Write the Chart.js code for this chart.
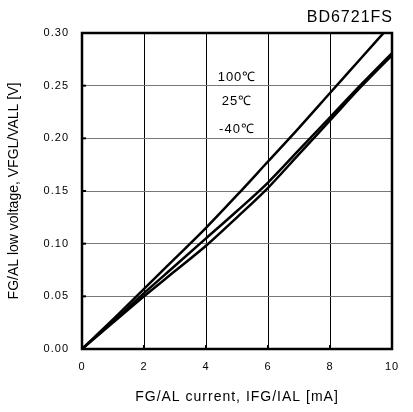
<!DOCTYPE html>
<html>
<head>
<meta charset="utf-8">
<script src="https://cdn.jsdelivr.net/npm/chart.js@4"></script>
<style>
  html, body { margin: 0; padding: 0; background: #fff; }
  #wrap { width: 413px; height: 412px; }
</style>
</head>
<body>
<div id="wrap"><canvas id="grafico" width="413" height="412"></canvas></div>
<script>
// dados
const corrente = [0, 1, 2, 3, 4, 5, 6, 7, 8, 9, 10];
const v100 = [0, 0.028, 0.057, 0.086, 0.115, 0.146, 0.178, 0.210, 0.243, 0.276, 0.309];
const v25 = [0, 0.026, 0.053, 0.079, 0.105, 0.131, 0.158, 0.189, 0.220, 0.251, 0.281];
const vm40 = [0, 0.025, 0.050, 0.074, 0.098, 0.125, 0.153, 0.185, 0.217, 0.249, 0.279];
const xTicks = [0, 2, 4, 6, 8, 10];
const yTicks = [0, 0.05, 0.10, 0.15, 0.20, 0.25, 0.30];
const rotulos = [
    { texto: '100\u2103', x: 5.0, y: 0.258 },
    { texto: '25\u2103', x: 5.0, y: 0.235 },
    { texto: '-40\u2103', x: 5.0, y: 0.208 }
];
const titulo = 'BD6721FS';
const tituloY = 'FG/AL low voltage, VFGL/VALL [V]';

const fonte = 'Liberation Sans, Arial, sans-serif';

function serie(ys) {
    return corrente.map((x, i) => ({ x: x, y: ys[i] }));
}

function dataset(ys) {
    return {
        data: serie(ys),
        borderColor: '#000',
        borderWidth: 2.5,
        pointRadius: 0,
        fill: false,
        cubicInterpolationMode: 'monotone'
    };
}

// texto do original e um pouco mais espacado
function espacar(chart) {
    if ('letterSpacing' in chart.ctx) chart.ctx.letterSpacing = '1px';
}

// moldura, marcas internas e textos
const extras = {
    id: 'extras',
    beforeUpdate: espacar,
    beforeDraw: espacar,
    afterDatasetsDraw(chart) {
        const ctx = chart.ctx;
        const a = chart.chartArea;
        const sx = chart.scales.x;
        const sy = chart.scales.y;
        ctx.save();
        ctx.strokeStyle = '#000';
        ctx.lineWidth = 2.5;
        ctx.strokeRect(a.left, a.top, a.right - a.left, a.bottom - a.top);
        ctx.lineWidth = 2;
        yTicks.forEach(v => {
            const py = sy.getPixelForValue(v);
            ctx.beginPath();
            ctx.moveTo(a.left, py);
            ctx.lineTo(a.left + 4, py);
            ctx.stroke();
        });
        xTicks.forEach(v => {
            const px = sx.getPixelForValue(v);
            ctx.beginPath();
            ctx.moveTo(px, a.bottom);
            ctx.lineTo(px, a.bottom - 4);
            ctx.stroke();
        });
        ctx.fillStyle = '#000';
        ctx.font = '13px ' + fonte;
        ctx.textAlign = 'center';
        ctx.textBaseline = 'middle';
        rotulos.forEach(r => {
            ctx.fillText(r.texto, sx.getPixelForValue(r.x), sy.getPixelForValue(r.y));
        });
        ctx.font = '16px ' + fonte;
        ctx.textAlign = 'right';
        ctx.fillText(titulo, a.right + 1, 18);

        // titulo do eixo y sem espacamento extra
        if ('letterSpacing' in ctx) ctx.letterSpacing = '0px';
        ctx.font = '14px ' + fonte;
        ctx.textAlign = 'center';
        ctx.translate(14, (a.top + a.bottom) / 2);
        ctx.rotate(-Math.PI / 2);
        ctx.fillText(tituloY, 0, 0);
        ctx.restore();
    }
};

const ctx = document.getElementById('grafico').getContext('2d');
const chart = new Chart(ctx, {
    type: 'line',
    data: {
        datasets: [dataset(v100), dataset(v25), dataset(vm40)]
    },
    options: {
        responsive: false,
        animation: false,
        layout: { padding: { top: 33, right: 21, left: 0, bottom: 0 } },
        plugins: {
            legend: { display: false },
            tooltip: { enabled: false }
        },
        scales: {
            x: {
                type: 'linear',
                min: 0,
                max: 10,
                afterFit: s => { s.height = 63; },
                afterBuildTicks: s => { s.ticks = xTicks.map(v => ({ value: v })); },
                grid: { color: '#000', lineWidth: 1, drawTicks: false },
                border: { display: false },
                ticks: {
                    padding: 11,
                    color: '#000',
                    font: { family: fonte, size: 11 },
                    maxRotation: 0
                },
                title: {
                    display: true,
                    text: 'FG/AL current, IFG/IAL [mA]',
                    color: '#000',
                    font: { family: fonte, size: 14 },
                    padding: { top: 6, bottom: 6 }
                }
            },
            y: {
                min: 0,
                max: 0.30,
                afterFit: s => { s.width = 82; },
                afterBuildTicks: s => { s.ticks = yTicks.map(v => ({ value: v })); },
                grid: { color: '#777', lineWidth: 1, drawTicks: false },
                border: { display: false },
                ticks: {
                    padding: 13,
                    color: '#000',
                    font: { family: fonte, size: 11 },
                    callback: v => Number(v).toFixed(2)
                },
                title: { display: false }
            }
        }
    },
    plugins: [extras]
});
</script>
</body>
</html>
